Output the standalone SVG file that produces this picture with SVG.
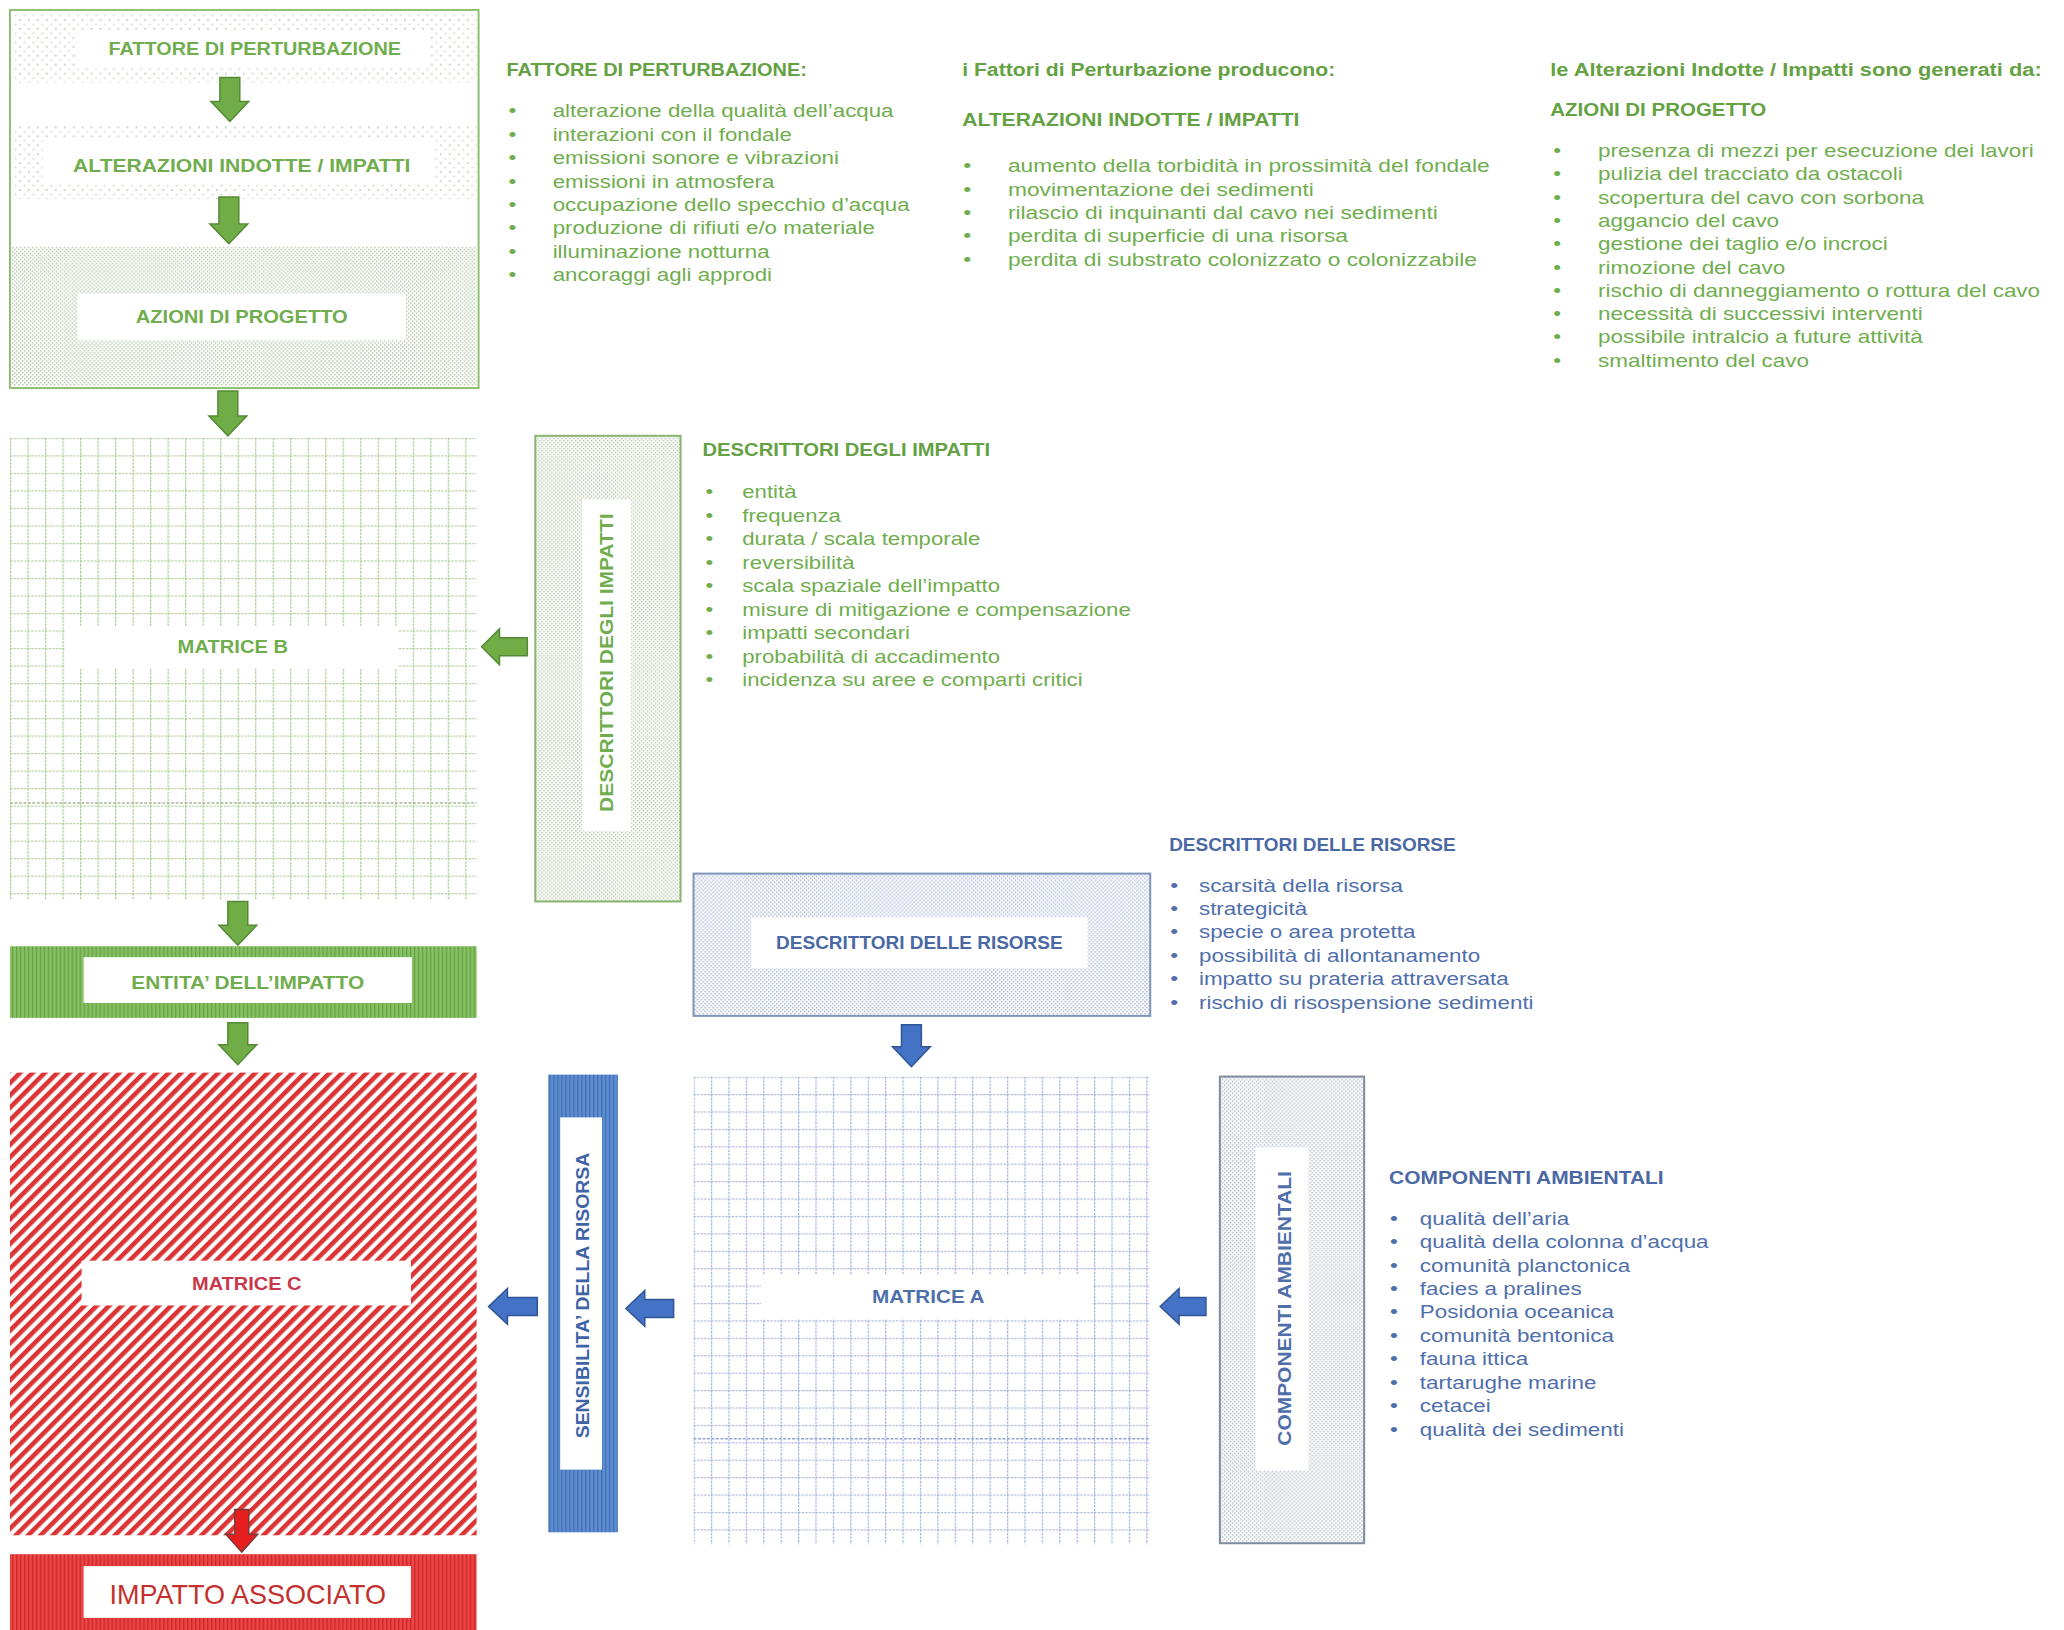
<svg xmlns="http://www.w3.org/2000/svg" width="2064" height="1630" viewBox="0 0 2064 1630">
<style>
text{font-family:"Liberation Sans",Arial,sans-serif}
.g{fill:#70ad4e}.gh{fill:#64a142}
.b{fill:#4f6fab}.bh{fill:#4a68a3}
.h{font-weight:bold;font-size:18px}
.li{font-size:18px}
.lbl{font-weight:bold;font-size:18px;text-anchor:middle}
.bu{text-anchor:middle}
.ga{fill:#70ad47;stroke:#548a35;stroke-width:1.5}
.ba{fill:#4472c4;stroke:#2f5597;stroke-width:1.5}
.ra{fill:#e61e1e;stroke:#7a3a3a;stroke-width:1.5}
.wl{fill:#ffffff}
</style>
<defs>
<pattern id="dotS" patternUnits="userSpaceOnUse" width="9" height="9">
<circle cx="2" cy="2" r="1.1" fill="#c3cfbd"/><circle cx="6.5" cy="6.5" r="1.1" fill="#d3dccd"/>
</pattern>
<pattern id="dotDG" patternUnits="userSpaceOnUse" width="4" height="4">
<rect x="0" y="0" width="1.5" height="1.5" fill="#b0c3a6"/><rect x="2" y="2" width="1.5" height="1.5" fill="#b0c3a6"/>
</pattern>
<pattern id="dotDB" patternUnits="userSpaceOnUse" width="4" height="4">
<rect x="0" y="0" width="1.5" height="1.5" fill="#a3b2d0"/><rect x="2" y="2" width="1.5" height="1.5" fill="#a3b2d0"/>
</pattern>
<pattern id="dotDN" patternUnits="userSpaceOnUse" width="4" height="4">
<rect x="0" y="0" width="1.5" height="1.5" fill="#adb6c4"/><rect x="2" y="2" width="1.5" height="1.5" fill="#adb6c4"/>
</pattern>
<pattern id="gridG" patternUnits="userSpaceOnUse" x="10" y="440" width="17.6" height="17.6">
<path d="M0 0.6H17.6" stroke="#b3ce9f" stroke-width="1.3" stroke-dasharray="2.4 1.2"/>
<path d="M0.6 0V17.6" stroke="#a4c98b" stroke-width="1.3" stroke-dasharray="2.4 1.2"/>
</pattern>
<pattern id="gridB" patternUnits="userSpaceOnUse" x="697" y="1082" width="17.5" height="17.5">
<path d="M0 0.6H17.5" stroke="#aab8d6" stroke-width="1.3" stroke-dasharray="2.4 1.2"/>
<path d="M0.6 0V17.5" stroke="#9db0da" stroke-width="1.3" stroke-dasharray="2.4 1.2"/>
</pattern>
<pattern id="strR" patternUnits="userSpaceOnUse" width="8.8" height="8.8" patternTransform="rotate(45)">
<rect x="0" y="0" width="4.6" height="8.8" fill="#dc3434"/>
</pattern>
<pattern id="vsG" patternUnits="userSpaceOnUse" width="4" height="4">
<rect width="4" height="4" fill="#86c264"/><rect width="1.3" height="4" fill="#64a143"/>
</pattern>
<pattern id="vsR" patternUnits="userSpaceOnUse" width="4" height="4">
<rect width="4" height="4" fill="#ef4545"/><rect width="1.4" height="4" fill="#c92a2a"/>
</pattern>
<pattern id="vsB" patternUnits="userSpaceOnUse" width="4" height="4">
<rect width="4" height="4" fill="#5f8dd2"/><rect width="1.4" height="4" fill="#4170b5"/>
</pattern>
</defs>
<rect width="2064" height="1630" fill="#ffffff"/>
<g transform="scale(0.995)">

<g id="nodo-flusso-superiore">
<rect x="12" y="12" width="467" height="71" fill="url(#dotS)"/>
<rect x="78" y="32" width="355" height="36" class="wl"/>
<rect x="12" y="125" width="467" height="75" fill="url(#dotS)"/>
<rect x="43" y="138" width="394" height="46" class="wl"/>
<rect x="12" y="248" width="467" height="140" fill="url(#dotDG)"/>
<rect x="78" y="295" width="330" height="47" class="wl"/>
<rect x="10" y="10" width="471" height="380" fill="none" stroke="#8fbf73" stroke-width="2"/>
<text class="lbl g" x="256" y="55.5" textLength="294" lengthAdjust="spacingAndGlyphs">FATTORE DI PERTURBAZIONE</text>
<text class="lbl g" x="243" y="172.5" textLength="339" lengthAdjust="spacingAndGlyphs">ALTERAZIONI INDOTTE / IMPATTI</text>
<text class="lbl g" x="243" y="324.5" textLength="213" lengthAdjust="spacingAndGlyphs">AZIONI DI PROGETTO</text>
</g>

<g id="testo-fattore-perturbazione">
<text class="h gh" x="509" y="76.5" textLength="302" lengthAdjust="spacingAndGlyphs">FATTORE DI PERTURBAZIONE:</text>
<g transform="translate(515,0) scale(1.245,1)" class="li g">
<text class="bu" x="0" y="118">•</text><text x="32.5" y="118">alterazione della qualità dell’acqua</text>
<text class="bu" x="0" y="141.5">•</text><text x="32.5" y="141.5">interazioni con il fondale</text>
<text class="bu" x="0" y="165">•</text><text x="32.5" y="165">emissioni sonore e vibrazioni</text>
<text class="bu" x="0" y="188.5">•</text><text x="32.5" y="188.5">emissioni in atmosfera</text>
<text class="bu" x="0" y="212">•</text><text x="32.5" y="212">occupazione dello specchio d’acqua</text>
<text class="bu" x="0" y="235.5">•</text><text x="32.5" y="235.5">produzione di rifiuti e/o materiale</text>
<text class="bu" x="0" y="259">•</text><text x="32.5" y="259">illuminazione notturna</text>
<text class="bu" x="0" y="282.5">•</text><text x="32.5" y="282.5">ancoraggi agli approdi</text>
</g>
</g>

<g id="testo-alterazioni">
<text class="h gh" x="967" y="76.5" textLength="375" lengthAdjust="spacingAndGlyphs">i Fattori di Perturbazione producono:</text>
<text class="h gh" x="967" y="126.5" textLength="339" lengthAdjust="spacingAndGlyphs">ALTERAZIONI INDOTTE / IMPATTI</text>
<g transform="translate(972,0) scale(1.27,1)" class="li g">
<text class="bu" x="0" y="173">•</text><text x="32.3" y="173">aumento della torbidità in prossimità del fondale</text>
<text class="bu" x="0" y="196.5">•</text><text x="32.3" y="196.5">movimentazione dei sedimenti</text>
<text class="bu" x="0" y="220">•</text><text x="32.3" y="220">rilascio di inquinanti dal cavo nei sedimenti</text>
<text class="bu" x="0" y="243.5">•</text><text x="32.3" y="243.5">perdita di superficie di una risorsa</text>
<text class="bu" x="0" y="267">•</text><text x="32.3" y="267">perdita di substrato colonizzato o colonizzabile</text>
</g>
</g>

<g id="testo-azioni-progetto">
<text class="h gh" x="1558" y="76.5" textLength="494" lengthAdjust="spacingAndGlyphs">le Alterazioni Indotte / Impatti sono generati da:</text>
<text class="h gh" x="1558" y="116.5" textLength="217" lengthAdjust="spacingAndGlyphs">AZIONI DI PROGETTO</text>
<g transform="translate(1565,0) scale(1.255,1)" class="li g">
<text class="bu" x="0" y="158">•</text><text x="32.7" y="158">presenza di mezzi per esecuzione dei lavori</text>
<text class="bu" x="0" y="181.4">•</text><text x="32.7" y="181.4">pulizia del tracciato da ostacoli</text>
<text class="bu" x="0" y="204.8">•</text><text x="32.7" y="204.8">scopertura del cavo con sorbona</text>
<text class="bu" x="0" y="228.2">•</text><text x="32.7" y="228.2">aggancio del cavo</text>
<text class="bu" x="0" y="251.6">•</text><text x="32.7" y="251.6">gestione dei taglio e/o incroci</text>
<text class="bu" x="0" y="275">•</text><text x="32.7" y="275">rimozione del cavo</text>
<text class="bu" x="0" y="298.4">•</text><text x="32.7" y="298.4">rischio di danneggiamento o rottura del cavo</text>
<text class="bu" x="0" y="321.8">•</text><text x="32.7" y="321.8">necessità di successivi interventi</text>
<text class="bu" x="0" y="345.2">•</text><text x="32.7" y="345.2">possibile intralcio a future attività</text>
<text class="bu" x="0" y="368.6">•</text><text x="32.7" y="368.6">smaltimento del cavo</text>
</g>
</g>

<g id="matrice-b">
<rect x="10" y="440" width="469" height="464" fill="url(#gridG)"/>
<line x1="10" y1="807" x2="479" y2="807" stroke="#a7b99b" stroke-width="1.6" stroke-dasharray="3 1.5"/>
<rect x="65" y="629" width="335" height="43" class="wl"/>
<text class="lbl g" x="234" y="656.5" textLength="111" lengthAdjust="spacingAndGlyphs">MATRICE B</text>
</g>

<g id="descrittori-impatti-box">
<rect x="538" y="438" width="146" height="468" fill="url(#dotDG)" stroke="#8ab56e" stroke-width="2"/>
<rect x="585" y="502" width="49" height="333" class="wl"/>
<text class="lbl g" transform="translate(610,666) rotate(-90)" x="0" y="6.5" textLength="300" lengthAdjust="spacingAndGlyphs">DESCRITTORI DEGLI IMPATTI</text>
</g>

<g id="testo-descrittori-impatti">
<text class="h gh" x="706" y="458.5" textLength="289" lengthAdjust="spacingAndGlyphs">DESCRITTORI DEGLI IMPATTI</text>
<g transform="translate(713,0) scale(1.24,1)" class="li g">
<text class="bu" x="0" y="501">•</text><text x="26.6" y="501">entità</text>
<text class="bu" x="0" y="524.6">•</text><text x="26.6" y="524.6">frequenza</text>
<text class="bu" x="0" y="548.2">•</text><text x="26.6" y="548.2">durata / scala temporale</text>
<text class="bu" x="0" y="571.8">•</text><text x="26.6" y="571.8">reversibilità</text>
<text class="bu" x="0" y="595.4">•</text><text x="26.6" y="595.4">scala spaziale dell’impatto</text>
<text class="bu" x="0" y="619">•</text><text x="26.6" y="619">misure di mitigazione e compensazione</text>
<text class="bu" x="0" y="642.6">•</text><text x="26.6" y="642.6">impatti secondari</text>
<text class="bu" x="0" y="666.2">•</text><text x="26.6" y="666.2">probabilità di accadimento</text>
<text class="bu" x="0" y="689.8">•</text><text x="26.6" y="689.8">incidenza su aree e comparti critici</text>
</g>
</g>

<g id="entita-impatto">
<rect x="10" y="951" width="469" height="72" fill="url(#vsG)"/>
<rect x="84" y="962" width="330" height="46" class="wl"/>
<text class="lbl g" x="249" y="993.5" textLength="234" lengthAdjust="spacingAndGlyphs">ENTITA’ DELL’IMPATTO</text>
</g>

<g id="descrittori-risorse-box">
<rect x="697" y="878" width="459" height="143" fill="url(#dotDB)" stroke="#7f95bb" stroke-width="2"/>
<rect x="755" y="922" width="338" height="51" class="wl"/>
<text class="lbl bh" x="924" y="953.5" textLength="288" lengthAdjust="spacingAndGlyphs">DESCRITTORI DELLE RISORSE</text>
</g>

<g id="testo-descrittori-risorse">
<text class="h bh" x="1175" y="855.5" textLength="288" lengthAdjust="spacingAndGlyphs">DESCRITTORI DELLE RISORSE</text>
<g transform="translate(1180,0) scale(1.25,1)" class="li b">
<text class="bu" x="0" y="896">•</text><text x="20" y="896">scarsità della risorsa</text>
<text class="bu" x="0" y="919.6">•</text><text x="20" y="919.6">strategicità</text>
<text class="bu" x="0" y="943.2">•</text><text x="20" y="943.2">specie o area protetta</text>
<text class="bu" x="0" y="966.8">•</text><text x="20" y="966.8">possibilità di allontanamento</text>
<text class="bu" x="0" y="990.4">•</text><text x="20" y="990.4">impatto su prateria attraversata</text>
<text class="bu" x="0" y="1014">•</text><text x="20" y="1014">rischio di risospensione sedimenti</text>
</g>
</g>

<g id="matrice-c">
<rect x="10" y="1078" width="469" height="465" fill="url(#strR)"/>
<rect x="82" y="1267" width="331" height="45" class="wl"/>
<text class="lbl" x="248" y="1296.5" fill="#c8374a" textLength="110" lengthAdjust="spacingAndGlyphs">MATRICE C</text>
</g>

<g id="impatto-associato">
<rect x="10" y="1562" width="469" height="78" fill="url(#vsR)"/>
<rect x="84" y="1574" width="329" height="52" class="wl"/>
<text x="249" y="1612" font-size="27" text-anchor="middle" fill="#c4302b" textLength="278" lengthAdjust="spacingAndGlyphs">IMPATTO ASSOCIATO</text>
</g>

<g id="sensibilita-risorsa">
<rect x="551" y="1080" width="70" height="460" fill="url(#vsB)"/>
<rect x="563" y="1123" width="42" height="354" class="wl"/>
<text class="lbl" fill="#3f64a6" transform="translate(585,1302) rotate(-90)" x="0" y="6.5" textLength="287" lengthAdjust="spacingAndGlyphs">SENSIBILITA’ DELLA RISORSA</text>
</g>

<g id="matrice-a">
<rect x="697" y="1082" width="459" height="470" fill="url(#gridB)"/>
<line x1="697" y1="1446" x2="1156" y2="1446" stroke="#8ea4d2" stroke-width="1.6" stroke-dasharray="3 1.5"/>
<rect x="765" y="1281" width="333" height="45" class="wl"/>
<text class="lbl b" x="933" y="1309.5" textLength="113" lengthAdjust="spacingAndGlyphs">MATRICE A</text>
</g>

<g id="componenti-ambientali-box">
<rect x="1226" y="1082" width="145" height="469" fill="url(#dotDN)" stroke="#7d8aa0" stroke-width="2"/>
<rect x="1262" y="1153" width="53" height="325" class="wl"/>
<text class="lbl b" transform="translate(1291,1315) rotate(-90)" x="0" y="6.5" textLength="276" lengthAdjust="spacingAndGlyphs">COMPONENTI AMBIENTALI</text>
</g>

<g id="testo-componenti-ambientali">
<text class="h bh" x="1396" y="1189.5" textLength="276" lengthAdjust="spacingAndGlyphs">COMPONENTI AMBIENTALI</text>
<g transform="translate(1401,0) scale(1.25,1)" class="li b">
<text class="bu" x="0" y="1231">•</text><text x="20.8" y="1231">qualità dell’aria</text>
<text class="bu" x="0" y="1254.5">•</text><text x="20.8" y="1254.5">qualità della colonna d’acqua</text>
<text class="bu" x="0" y="1278">•</text><text x="20.8" y="1278">comunità planctonica</text>
<text class="bu" x="0" y="1301.6">•</text><text x="20.8" y="1301.6">facies a pralines</text>
<text class="bu" x="0" y="1325">•</text><text x="20.8" y="1325">Posidonia oceanica</text>
<text class="bu" x="0" y="1348.7">•</text><text x="20.8" y="1348.7">comunità bentonica</text>
<text class="bu" x="0" y="1372.3">•</text><text x="20.8" y="1372.3">fauna ittica</text>
<text class="bu" x="0" y="1395.8">•</text><text x="20.8" y="1395.8">tartarughe marine</text>
<text class="bu" x="0" y="1419.4">•</text><text x="20.8" y="1419.4">cetacei</text>
<text class="bu" x="0" y="1443">•</text><text x="20.8" y="1443">qualità dei sedimenti</text>
</g>
</g>

<g id="connettori">
<path class="ga" d="M221 78H241V102H250L231 122L212 102H221Z"/>
<path class="ga" d="M220 198H240V225H249L230 245L211 225H220Z"/>
<path class="ga" d="M219 393H239V418H248L229 438L210 418H219Z"/>
<path class="ga" d="M530 641V659H502V668L484 650L502 632V641Z"/>
<path class="ga" d="M229 906H249V930H258L239 950L220 930H229Z"/>
<path class="ga" d="M229 1028H249V1050H258L239 1070L220 1050H229Z"/>
<path class="ra" d="M236 1517H250V1542H259L243 1560L227 1542H236Z"/>
<path class="ba" d="M906 1030H926V1052H935L916 1072L897 1052H906Z"/>
<path class="ba" d="M540 1304V1322H510V1331L491 1313L510 1295V1304Z"/>
<path class="ba" d="M677 1306V1324H648V1333L629 1315L648 1297V1306Z"/>
<path class="ba" d="M1212 1304V1322H1185V1331L1166 1313L1185 1295V1304Z"/>
</g>
</g>
</svg>
